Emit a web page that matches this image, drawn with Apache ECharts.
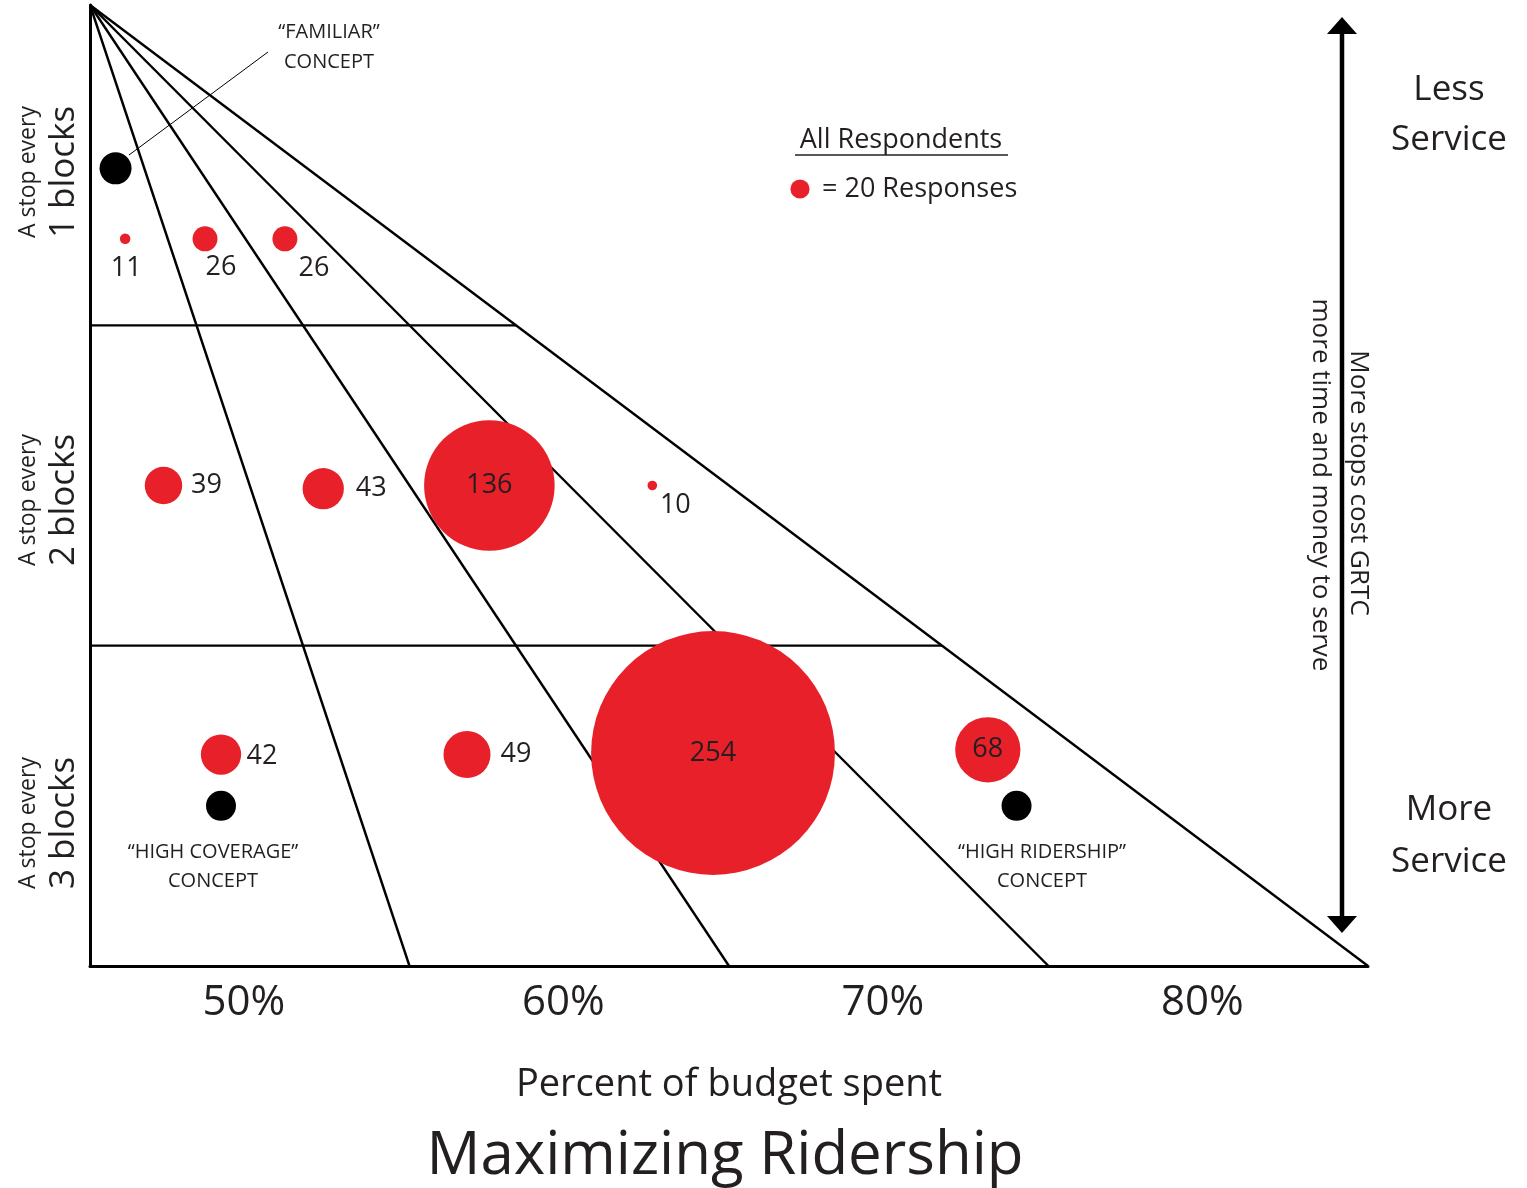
<!DOCTYPE html>
<html>
<head>
<meta charset="utf-8">
<style>
html,body{margin:0;padding:0;background:#fff;}
#chart{width:1527px;height:1188px;}
</style>
<script src="https://cdn.jsdelivr.net/npm/echarts@6/dist/echarts.min.js"></script>
</head>
<body>
<div id="chart"></div>
<script>
// ---- data ----
const xTicks = [50, 60, 70, 80];                 // % of budget spent
const rowLabels = ['1 blocks', '2 blocks', '3 blocks'];
const budgetSpent = [46.1, 48.6, 51.1, 47.3, 52.3, 57.5, 62.6, 49.1, 56.8, 64.5, 73.1];
const stopRow     = [2.27, 2.27, 2.27, 1.50, 1.49, 1.50, 1.50, 0.66, 0.66, 0.665, 0.675];
const responses   = [11, 26, 26, 39, 43, 136, 10, 42, 49, 254, 68];
const conceptNames  = ['“FAMILIAR”', '“HIGH COVERAGE”', '“HIGH RIDERSHIP”'];
const conceptBudget = [45.8, 49.1, 74.0];
const conceptRow    = [2.49, 0.50, 0.50];
const rayEnds = [55, 65, 75, 85];   // budget % where each guide ray meets the bottom
const bandEdges = [1, 2];           // boundaries between the stop-spacing rows
const legendResponses = 20;

// ---- styling ----
const FONT = 'Open Sans';
const INK = '#231f20';
const RED = '#e8202a';
const X0 = 45, X1 = 85, Y1 = 3;
const sizeScale = 0.96; // px diameter per response
// label offsets (px) relative to bubble centre
const labelOffsets = [[1,29],[16,28],[29,29],[43,0],[48,0],[0,0],[23,20],[41,2],[49,0],[0,0],[0,0]];

const chart = echarts.init(document.getElementById('chart'), null, {renderer: 'canvas'});

const lineSeries = [];
rayEnds.forEach(function (e) {
  lineSeries.push({type: 'line', data: [[X0, Y1], [e, 0]], symbol: 'none', silent: true,
    lineStyle: {color: '#000', width: 2.4}, z: 1});
});
bandEdges.forEach(function (y) {
  const xe = X0 + (X1 - X0) * (Y1 - y) / Y1;
  lineSeries.push({type: 'line', data: [[X0, y], [xe, y]], symbol: 'none', silent: true,
    lineStyle: {color: '#000', width: 2.4}, z: 1});
});

const bubbleData = responses.map(function (v, i) {
  return {
    value: [budgetSpent[i], stopRow[i], v],
    symbolSize: v * sizeScale,
    label: {show: true, position: 'inside', offset: labelOffsets[i], formatter: String(v),
      fontFamily: FONT, fontSize: 27, color: INK}
  };
});

const conceptData = conceptNames.map(function (n, i) {
  return {value: [conceptBudget[i], conceptRow[i]], name: n, symbolSize: i === 0 ? 32 : 30};
});

const graphics = [];
// row labels (rotated)
const rowCenters = [172, 500, 823];
rowLabels.forEach(function (t, i) {
  graphics.push({type: 'text', x: 28, y: rowCenters[i], rotation: Math.PI / 2,
    style: {text: 'A stop every', font: '23px "' + FONT + '"', fill: INK, textAlign: 'center', textVerticalAlign: 'middle'}});
  graphics.push({type: 'text', x: 64, y: rowCenters[i], rotation: Math.PI / 2,
    style: {text: t, font: '35px "' + FONT + '"', fill: INK, textAlign: 'center', textVerticalAlign: 'middle'}});
});
// concept annotations
graphics.push({type: 'text', x: 329, y: 47,
  style: {text: conceptNames[0] + '\nCONCEPT', font: '20px "' + FONT + '"', lineHeight: 30, fill: INK, textAlign: 'center', textVerticalAlign: 'middle'}});
graphics.push({type: 'line', shape: {x1: 129, y1: 155, x2: 268, y2: 52}, style: {stroke: '#000', lineWidth: 1}});
graphics.push({type: 'text', x: 213, y: 867,
  style: {text: conceptNames[1] + '\nCONCEPT', font: '20px "' + FONT + '"', lineHeight: 29, fill: INK, textAlign: 'center', textVerticalAlign: 'middle'}});
graphics.push({type: 'text', x: 1042, y: 867,
  style: {text: conceptNames[2] + '\nCONCEPT', font: '20px "' + FONT + '"', lineHeight: 29, fill: INK, textAlign: 'center', textVerticalAlign: 'middle'}});
// legend
graphics.push({type: 'text', x: 901, y: 140,
  style: {text: 'All Respondents', font: '27px "' + FONT + '"', fill: INK, textAlign: 'center', textVerticalAlign: 'middle'}});
graphics.push({type: 'line', shape: {x1: 795, y1: 155, x2: 1008, y2: 155}, style: {stroke: INK, lineWidth: 1.5}});
graphics.push({type: 'circle', shape: {cx: 800, cy: 189, r: legendResponses * sizeScale / 2}, style: {fill: RED}});
graphics.push({type: 'text', x: 822, y: 189,
  style: {text: '= ' + legendResponses + ' Responses', font: '27px "' + FONT + '"', fill: INK, textAlign: 'left', textVerticalAlign: 'middle'}});
// right side arrow
graphics.push({type: 'line', shape: {x1: 1342, y1: 30, x2: 1342, y2: 920}, style: {stroke: '#000', lineWidth: 4.5}});
graphics.push({type: 'polygon', shape: {points: [[1327, 34], [1342, 17], [1357, 34]]}, style: {fill: '#000'}});
graphics.push({type: 'polygon', shape: {points: [[1327, 916], [1342, 933], [1357, 916]]}, style: {fill: '#000'}});
graphics.push({type: 'text', x: 1358, y: 483, rotation: -Math.PI / 2,
  style: {text: 'More stops cost GRTC', font: '26px "' + FONT + '"', fill: INK, textAlign: 'center', textVerticalAlign: 'middle'}});
graphics.push({type: 'text', x: 1320, y: 485, rotation: -Math.PI / 2,
  style: {text: 'more time and money to serve', font: '26px "' + FONT + '"', fill: INK, textAlign: 'center', textVerticalAlign: 'middle'}});
graphics.push({type: 'text', x: 1449, y: 115,
  style: {text: 'Less\nService', font: '35px "' + FONT + '"', lineHeight: 50, fill: INK, textAlign: 'center', textVerticalAlign: 'middle'}});
graphics.push({type: 'text', x: 1449, y: 836,
  style: {text: 'More\nService', font: '35px "' + FONT + '"', lineHeight: 52, fill: INK, textAlign: 'center', textVerticalAlign: 'middle'}});

chart.setOption({
  animation: false,
  backgroundColor: '#fff',
  title: {
    text: 'Maximizing Ridership', left: 720, top: 1122, textAlign: 'center',
    textStyle: {fontFamily: FONT, fontSize: 60, fontWeight: 'normal', color: INK}
  },
  grid: {left: 90, right: 159, top: 5, bottom: 222, containLabel: false},
  xAxis: {
    type: 'value', min: X0, max: X1,
    axisLine: {show: true, onZero: false, lineStyle: {color: '#000', width: 3}},
    axisTick: {show: false},
    splitLine: {show: false},
    axisLabel: {customValues: xTicks, formatter: '{value}%', fontFamily: FONT, fontSize: 42, color: INK, margin: 16,
      padding: [0, 12, 0, 0]},
    name: 'Percent of budget spent', nameLocation: 'middle', nameGap: 100,
    nameTextStyle: {fontFamily: FONT, fontSize: 38, color: INK}
  },
  yAxis: {
    type: 'value', min: 0, max: Y1,
    axisLine: {show: true, onZero: false, lineStyle: {color: '#000', width: 3}},
    axisTick: {show: false}, axisLabel: {show: false}, splitLine: {show: false}
  },
  series: lineSeries.concat([
    {type: 'scatter', name: 'All Respondents', data: bubbleData, itemStyle: {color: RED, opacity: 1}, z: 3, silent: true},
    {type: 'scatter', name: 'Concepts', data: conceptData, itemStyle: {color: '#000', opacity: 1}, z: 3, silent: true}
  ]),
  graphic: graphics
});
</script>
</body>
</html>
